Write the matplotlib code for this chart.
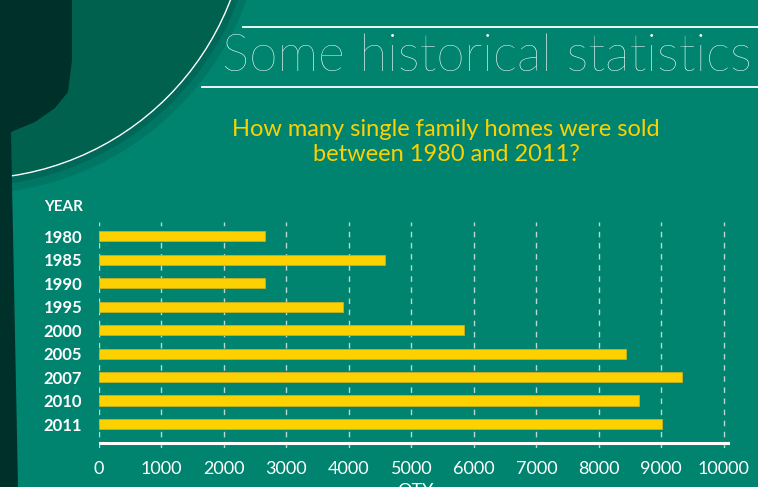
import matplotlib
matplotlib.use('Agg')
import matplotlib.pyplot as plt
from matplotlib.patches import Circle, Polygon, Arc

# data
years = ['1980', '1985', '1990', '1995', '2000', '2005', '2007', '2010', '2011']
homes_sold = [2650, 4580, 2650, 3900, 5850, 8430, 9330, 8640, 9010]
x_ticks = [0, 1000, 2000, 3000, 4000, 5000, 6000, 7000, 8000, 9000, 10000]

W, H = 758, 487
teal = '#00846f'
yellow = '#fdd100'

plt.rcParams['font.family'] = ['Lato', 'DejaVu Sans']

fig = plt.figure(figsize=(W / 100, H / 100), dpi=100)
fig.patch.set_facecolor(teal)

# background decorations, in pixel coordinates
bg = fig.add_axes([0, 0, 1, 1], zorder=0)
bg.set_xlim(0, W)
bg.set_ylim(H, 0)
bg.axis('off')
bg.add_patch(Circle((-30, -100), 294, color='#00695a', alpha=0.5, lw=0))
bg.add_patch(Circle((-30, -100), 286, color='#005f50', alpha=0.6, lw=0))
bg.add_patch(Circle((-30, -100), 279, color='#00614f', lw=0))
bg.add_patch(Arc((-30, -100), 558, 558, theta1=0, theta2=90, color='white', lw=1))
bg.add_patch(Polygon([(0, 0), (72, 0), (72, 60), (68, 92), (55, 108), (35, 122),
                      (11, 132), (18, H), (0, H)], closed=True, color='#00302a', lw=0))

# title block
bg.plot([243, W], [27, 27], color='white', lw=1.3)
bg.plot([202, W], [87, 87], color='white', lw=1.3)
bg.text(487, 57, 'Some historical statistics', color='white', fontsize=37,
        fontweight='light', ha='center', va='center')
bg.text(446, 142, 'How many single family homes were sold\nbetween 1980 and 2011?',
        color=yellow, fontsize=17, ha='center', va='center', linespacing=1.25)
bg.text(64, 207, 'YEAR', color='white', fontsize=11, fontweight='bold',
        ha='center', va='center')
bg.text(415, 491, 'QTY', color='white', fontsize=13, ha='center', va='center')

# the bar chart
ax = fig.add_axes([99 / W, 1 - 448 / H, 631 / W, 226 / H], zorder=1)
ax.patch.set_alpha(0)
pos = list(range(len(years)))
ax.barh(pos, homes_sold, height=0.43, color=yellow, edgecolor='#c9b020', lw=0.6, zorder=3)
ax.set_xlim(0, 10100)
ax.set_ylim(9.02, -0.6)
ax.axhline(8.81, color='white', lw=2.2, zorder=4)
ax.set_xticks(x_ticks)
ax.set_yticks(pos)
ax.set_yticklabels(years)
ax.xaxis.grid(True, color='#b8d8d2', linestyle=(0, (4, 4)), lw=1, zorder=1)
for s in ax.spines.values():
    s.set_visible(False)
ax.tick_params(length=0)
ax.tick_params(axis='x', colors='white', labelsize=13, pad=9)
ax.tick_params(axis='y', colors='white', labelsize=12, pad=12)
for lbl in ax.get_yticklabels():
    lbl.set_fontweight('bold')

plt.savefig('out.png', dpi=100, facecolor=fig.get_facecolor())
